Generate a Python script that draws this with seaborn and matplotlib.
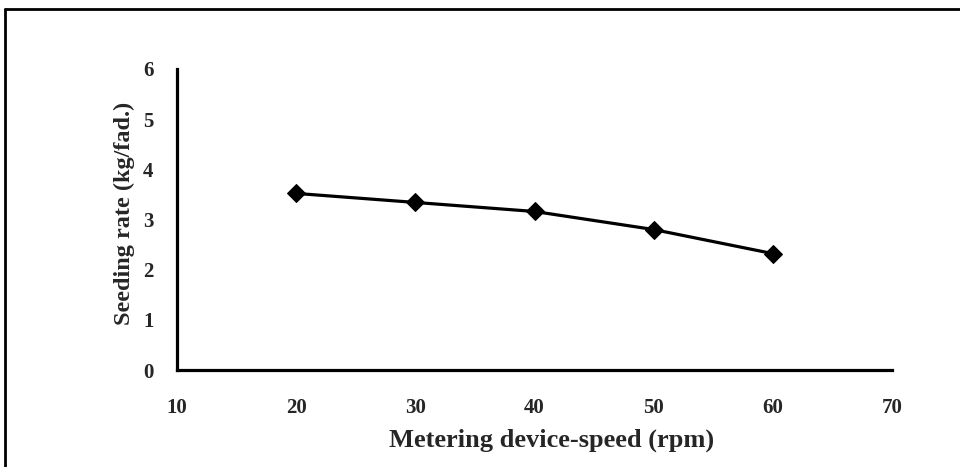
import matplotlib
matplotlib.use("Agg")
import matplotlib.pyplot as plt
import seaborn as sns
import pandas as pd
from matplotlib.lines import Line2D

speed = [20, 30, 40, 50, 60]
seeding_rate = [3.52, 3.34, 3.16, 2.80, 2.32]
x_ticks = [10, 20, 30, 40, 50, 60, 70]
y_ticks = [0, 1, 2, 3, 4, 5, 6]

sns.set_style("white")
plt.rcParams['font.family'] = ['Liberation Serif', 'DejaVu Serif']

df = pd.DataFrame({"speed": speed, "rate": seeding_rate})

fig = plt.figure(figsize=(9.6, 4.67), dpi=100)
ax = fig.add_axes([177/960, 1-370/467, (892-177)/960, (370-69)/467])

sns.lineplot(data=df, x="speed", y="rate", ax=ax, color="black", linewidth=2.3,
             marker="D", markersize=9, markeredgecolor="black", markerfacecolor="black")

ax.set_xlim(10, 70)
ax.set_ylim(0, 6)
ax.set_xticks(x_ticks)
ax.set_yticks(y_ticks)
ax.set_xticklabels([str(v) for v in x_ticks], fontsize=15, fontweight="bold")
ax.set_yticklabels([str(v) for v in y_ticks], fontsize=15, fontweight="bold")
ax.set_xlabel("Metering device-speed (rpm)", fontsize=19, fontweight="bold")
ax.set_ylabel("Seeding rate (kg/fad.)", fontsize=17.5, fontweight="bold")
ax.xaxis.set_label_coords((552-177)/715, (370-429)/301)
ax.yaxis.set_label_coords((135-177)/715, 0.52)

for s in ["top", "right"]:
    ax.spines[s].set_visible(False)
for s in ["left", "bottom"]:
    ax.spines[s].set_linewidth(2.3)
    ax.spines[s].set_color("black")
ax.tick_params(axis="x", direction="out", length=4, width=2, color="black", pad=16)
ax.tick_params(axis="y", direction="out", length=6, width=2, color="black", pad=11)
ax.grid(False)

# figure frame (left and top border)
fig.add_artist(Line2D([5/960, 5/960], [0, 1-9/467], transform=fig.transFigure, color="black", linewidth=2))
fig.add_artist(Line2D([5/960, 1], [1-9/467, 1-9/467], transform=fig.transFigure, color="black", linewidth=2))

fig.savefig("out.png", dpi=100)
